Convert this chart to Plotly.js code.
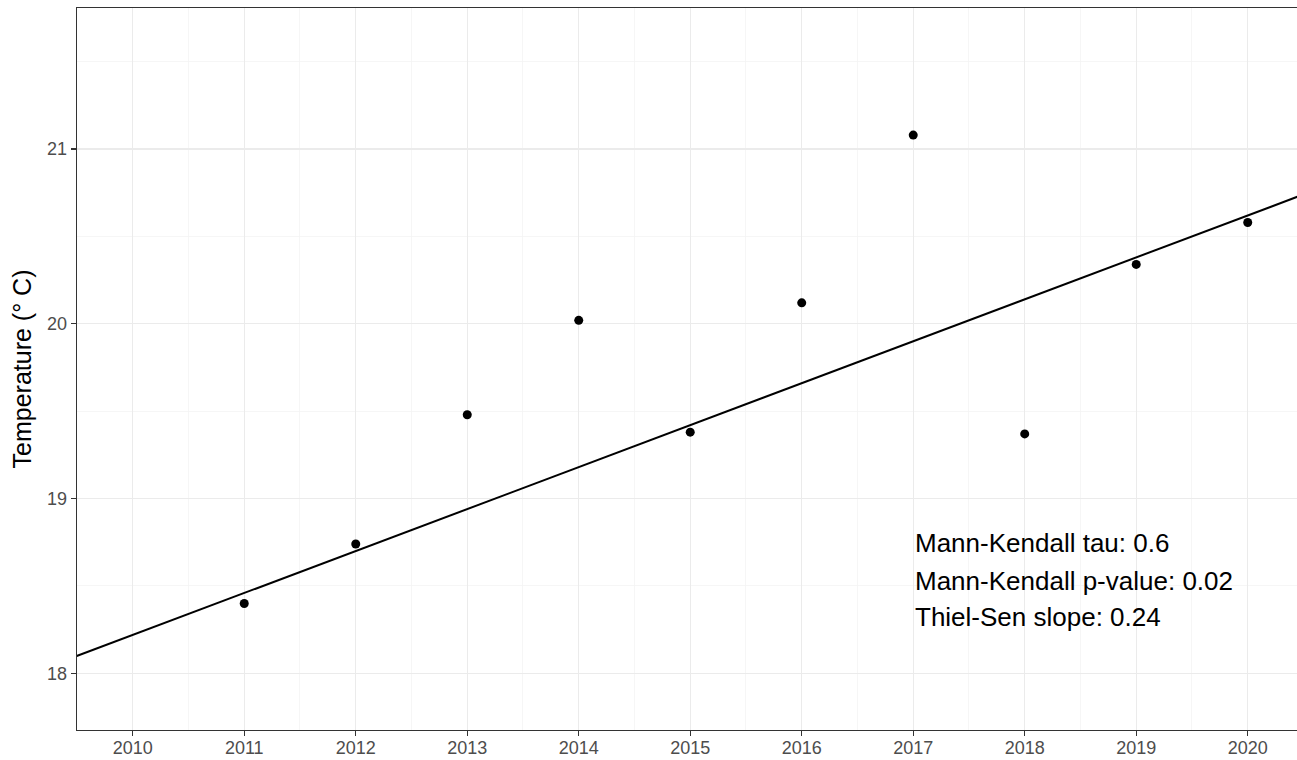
<!DOCTYPE html>
<html>
<head>
<meta charset="utf-8">
<script src="https://cdn.plot.ly/plotly-3.0.1.min.js"></script>
<style>
  html, body { margin: 0; padding: 0; background: #ffffff; overflow: hidden; }
  #chart { width: 1297px; height: 760px; }
</style>
</head>
<body>
<div id="chart"></div>
<script>
// ---- data ----
const years = [2011, 2012, 2013, 2014, 2015, 2016, 2017, 2018, 2019, 2020];
const temps = [18.40, 18.74, 19.48, 20.02, 19.38, 20.12, 21.08, 19.37, 20.34, 20.58];

// Thiel-Sen trend line parameters
const trendSlope = 0.24;          // degC per year
const trendRefYear = 2010;
const trendAtRef = 18.22;         // value at reference year
const trendYears = [2009, 2021];  // span across the panel (clipped by axes)

const statLabels = [
  "Mann-Kendall tau: 0.6",
  "Mann-Kendall p-value: 0.02",
  "Thiel-Sen slope: 0.24"
];
const statX = 2017;
const statY = [18.745, 18.53, 18.32];

const xTickVals = [2010, 2011, 2012, 2013, 2014, 2015, 2016, 2017, 2018, 2019, 2020];
const yTickVals = [18, 19, 20, 21];

// ---- traces ----
const trendTrace = {
  x: trendYears,
  y: trendYears.map(yr => trendAtRef + trendSlope * (yr - trendRefYear)),
  mode: 'lines',
  type: 'scatter',
  line: { color: '#000000', width: 2 },
  hoverinfo: 'skip',
  showlegend: false
};

const pointTrace = {
  x: years,
  y: temps,
  mode: 'markers',
  type: 'scatter',
  marker: { color: '#000000', size: 9 },
  showlegend: false,
  cliponaxis: false
};

const font = "'Liberation Sans', Arial, Helvetica, sans-serif";

const layout = {
  width: 1297,
  height: 760,
  margin: { l: 77, r: 0, t: 8, b: 30, pad: 0 },
  paper_bgcolor: '#ffffff',
  plot_bgcolor: '#ffffff',
  font: { family: font, color: '#4d4d4d' },
  showlegend: false,
  xaxis: {
    range: [2009.5, 2020.442],
    tickmode: 'array',
    tickvals: xTickVals,
    ticktext: xTickVals.map(String),
    tickfont: { size: 18, color: '#4d4d4d', family: font },
    ticks: 'outside',
    ticklen: 5,
    tickwidth: 1.3,
    tickcolor: '#333333',
    ticklabelstandoff: -4,
    showgrid: true,
    gridcolor: '#ebebeb',
    gridwidth: 1.3,
    minor: { tickmode: 'linear', tick0: 2009.5, dtick: 1, showgrid: true, gridcolor: '#f4f4f4', gridwidth: 0.8, ticks: '' },
    zeroline: false,
    showline: true,
    linecolor: '#333333',
    linewidth: 1.3,
    mirror: true,
    automargin: false,
    fixedrange: true
  },
  yaxis: {
    range: [17.676, 21.807],
    tickmode: 'array',
    tickvals: yTickVals,
    ticktext: yTickVals.map(String),
    tickfont: { size: 18, color: '#4d4d4d', family: font },
    ticks: 'outside',
    ticklen: 5,
    tickwidth: 1.3,
    tickcolor: '#333333',
    showgrid: true,
    gridcolor: '#ebebeb',
    gridwidth: 1.3,
    minor: { tickmode: 'linear', tick0: 17.5, dtick: 1, showgrid: true, gridcolor: '#f4f4f4', gridwidth: 0.8, ticks: '' },
    zeroline: false,
    showline: true,
    linecolor: '#333333',
    linewidth: 1.3,
    mirror: false,
    automargin: false,
    fixedrange: true,
    title: { text: 'Temperature (° C)', font: { size: 25, color: '#000000', family: font }, standoff: 8 }
  },
  annotations: statLabels.map((t, i) => ({
    x: statX,
    y: statY[i],
    xref: 'x',
    yref: 'y',
    text: t,
    showarrow: false,
    xanchor: 'left',
    yanchor: 'middle',
    font: { size: 26, color: '#000000', family: font }
  }))
};

Plotly.newPlot('chart', [trendTrace, pointTrace], layout, { displayModeBar: false, staticPlot: true });
</script>
</body>
</html>
